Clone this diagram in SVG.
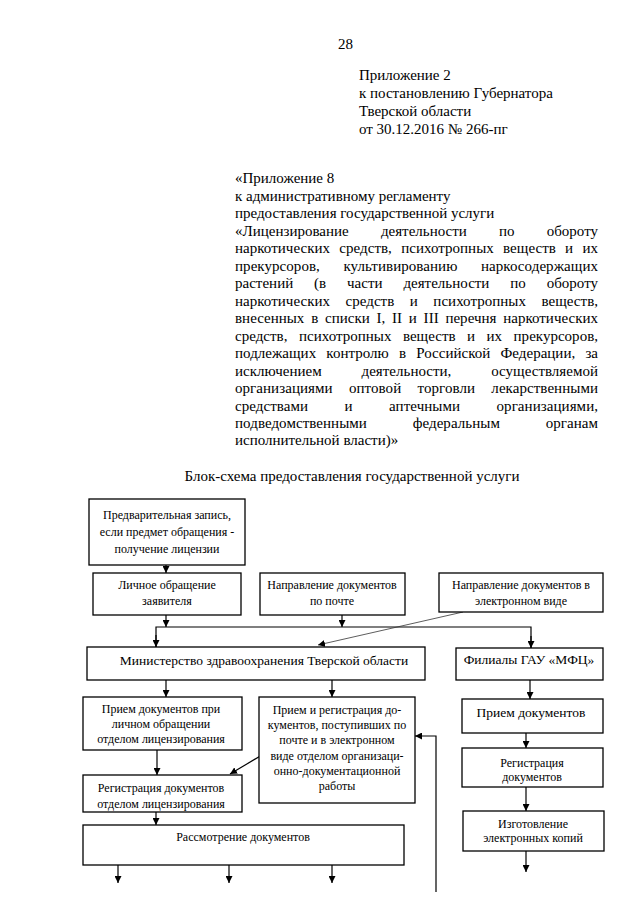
<svg xmlns="http://www.w3.org/2000/svg" width="640" height="905" viewBox="0 0 640 905">
<defs>
<style>
.hd{font-family:"Liberation Serif","Times New Roman",serif;font-size:15px;fill:#000}
.j{font-family:"Liberation Serif","Times New Roman",serif;font-size:15px;fill:#000}
.bt{font-family:"Liberation Serif","Times New Roman",serif;font-size:12px;fill:#000;text-anchor:middle}
.bt.lg{font-size:13.5px}
.box{fill:#fff;stroke:#000;stroke-width:1.3}
.ln{fill:none;stroke:#000;stroke-width:1.2}
.thin{fill:none;stroke:#333;stroke-width:0.8}
</style>
<marker id="ah" viewBox="0 0 8 8" refX="8" refY="4" markerWidth="7" markerHeight="7" markerUnits="userSpaceOnUse" orient="auto">
<path d="M0,0 L8,4 L0,8 z" fill="#000"/>
</marker>
</defs>
<rect width="640" height="905" fill="#fff"/>

<g id="header">
<text class="hd" x="338" y="49">28</text>
<text class="hd" x="359" y="80">Приложение 2</text>
<text class="hd" x="359" y="98">к постановлению Губернатора</text>
<text class="hd" x="359" y="116">Тверской области</text>
<text class="hd" x="359" y="134">от 30.12.2016 № 266-пг</text>
</g>

<g id="annex-text">
<text class="j" x="235" y="183">«Приложение 8</text>
<text class="j" x="235" y="200.5">к административному регламенту</text>
<text class="j" x="235" y="218">предоставления государственной услуги</text>
<text class="j" x="235" y="235.5" word-spacing="28.4" textLength="363" lengthAdjust="spacing">«Лицензирование деятельности по обороту</text>
<text class="j" x="235" y="253" word-spacing="5.5" textLength="363" lengthAdjust="spacing">наркотических средств, психотропных веществ и их</text>
<text class="j" x="235" y="270.5" word-spacing="19.7" textLength="363" lengthAdjust="spacing">прекурсоров, культивированию наркосодержащих</text>
<text class="j" x="235" y="288" word-spacing="17.1" textLength="363" lengthAdjust="spacing">растений (в части деятельности по обороту</text>
<text class="j" x="235" y="305.5" word-spacing="11.7" textLength="363" lengthAdjust="spacing">наркотических средств и психотропных веществ,</text>
<text class="j" x="235" y="323" word-spacing="3" textLength="363" lengthAdjust="spacing">внесенных в списки I, II и III перечня наркотических</text>
<text class="j" x="235" y="340.5" word-spacing="7.7" textLength="363" lengthAdjust="spacing">средств, психотропных веществ и их прекурсоров,</text>
<text class="j" x="235" y="358" word-spacing="6.4" textLength="363" lengthAdjust="spacing">подлежащих контролю в Российской Федерации, за</text>
<text class="j" x="235" y="375.5" word-spacing="36.1" textLength="363" lengthAdjust="spacing">исключением деятельности, осуществляемой</text>
<text class="j" x="235" y="393" word-spacing="12.5" textLength="363" lengthAdjust="spacing">организациями оптовой торговли лекарственными</text>
<text class="j" x="235" y="410.5" word-spacing="32.6" textLength="363" lengthAdjust="spacing">средствами и аптечными организациями,</text>
<text class="j" x="235" y="428" word-spacing="42" textLength="363" lengthAdjust="spacing">подведомственными федеральным органам</text>
<text class="j" x="235" y="445">исполнительной власти)»</text>
</g>

<g id="title">
<text class="hd" x="352" y="481" text-anchor="middle">Блок-схема предоставления государственной услуги</text>
</g>

<g id="connectors">
<line class="ln" x1="166" y1="565" x2="166" y2="573" marker-end="url(#ah)"/>
<line class="ln" x1="166" y1="615" x2="166" y2="627" marker-end="url(#ah)"/>
<line class="ln" x1="342" y1="615" x2="342" y2="627" marker-end="url(#ah)"/>
<polyline class="ln" points="156,647 156,627 531,627 531,648"/>
<line class="ln" x1="156" y1="635" x2="156" y2="647" marker-end="url(#ah)"/>
<line class="ln" x1="531" y1="636" x2="531" y2="648" marker-end="url(#ah)"/>
<line class="thin" x1="463" y1="612" x2="318" y2="645" marker-end="url(#ah)"/>
<line class="ln" x1="166" y1="680" x2="166" y2="697" marker-end="url(#ah)"/>
<line class="ln" x1="332" y1="680" x2="332" y2="697" marker-end="url(#ah)"/>
<line class="ln" x1="530" y1="680" x2="530" y2="699" marker-end="url(#ah)"/>
<line class="ln" x1="157" y1="750" x2="157" y2="775" marker-end="url(#ah)"/>
<line class="ln" x1="262" y1="755" x2="230" y2="774" marker-end="url(#ah)"/>
<polyline class="ln" points="436,892 436,736 415,736" marker-end="url(#ah)"/>
<line class="ln" x1="156" y1="812" x2="156" y2="825" marker-end="url(#ah)"/>
<line class="ln" x1="118" y1="865" x2="118" y2="883" marker-end="url(#ah)"/>
<line class="ln" x1="229" y1="865" x2="229" y2="883" marker-end="url(#ah)"/>
<line class="ln" x1="332" y1="865" x2="332" y2="883" marker-end="url(#ah)"/>
<line class="ln" x1="526" y1="733" x2="526" y2="748" marker-end="url(#ah)"/>
<line class="ln" x1="526" y1="787" x2="526" y2="811" marker-end="url(#ah)"/>
<line class="ln" x1="526" y1="851" x2="526" y2="872" marker-end="url(#ah)"/>
</g>

<g id="n-prereg">
<rect class="box" x="89" y="499" width="156" height="66"/>
<text class="bt" x="167" y="519">Предварительная запись,</text>
<text class="bt" x="167" y="536">если предмет обращения -</text>
<text class="bt" x="167" y="553">получение лицензии</text>
</g>
<g id="n-personal">
<rect class="box" x="93" y="573" width="148" height="42"/>
<text class="bt" x="167" y="589">Личное обращение</text>
<text class="bt" x="167" y="605">заявителя</text>
</g>
<g id="n-mail">
<rect class="box" x="260" y="573" width="145" height="42"/>
<text class="bt" x="332" y="589">Направление документов</text>
<text class="bt" x="332" y="605">по почте</text>
</g>
<g id="n-electronic">
<rect class="box" x="439" y="573" width="164" height="39"/>
<text class="bt" x="521" y="589">Направление документов в</text>
<text class="bt" x="521" y="605">электронном виде</text>
</g>
<g id="n-ministry">
<rect class="box" x="87" y="647" width="338" height="33"/>
<text class="bt lg" x="264" y="665">Министерство здравоохранения Тверской области</text>
</g>
<g id="n-mfc">
<rect class="box" x="456" y="648" width="147" height="32"/>
<text class="bt lg" x="529" y="664">Филиалы ГАУ «МФЦ»</text>
</g>
<g id="n-accept-personal">
<rect class="box" x="83" y="697" width="159" height="53"/>
<text class="bt" x="161" y="713">Прием документов при</text>
<text class="bt" x="161" y="728">личном обращении</text>
<text class="bt" x="161" y="743">отделом лицензирования</text>
</g>
<g id="n-accept-mail">
<rect class="box" x="259" y="697" width="156" height="106"/>
<text class="bt" x="337" y="714">Прием и регистрация до-</text>
<text class="bt" x="337" y="729">кументов, поступивших по</text>
<text class="bt" x="337" y="744">почте и в электронном</text>
<text class="bt" x="337" y="760">виде отделом организаци-</text>
<text class="bt" x="337" y="775">онно-документационной</text>
<text class="bt" x="337" y="790">работы</text>
</g>
<g id="n-register">
<rect class="box" x="83" y="775" width="159" height="37"/>
<text class="bt" x="161" y="792">Регистрация документов</text>
<text class="bt" x="161" y="808">отделом лицензирования</text>
</g>
<g id="n-review">
<rect class="box" x="83" y="825" width="321" height="40"/>
<text class="bt" x="243" y="841">Рассмотрение документов</text>
</g>
<g id="n-mfc-accept">
<rect class="box" x="462" y="699" width="141" height="34"/>
<text class="bt lg" x="531" y="717">Прием документов</text>
</g>
<g id="n-mfc-register">
<rect class="box" x="462" y="748" width="141" height="39"/>
<text class="bt" x="532" y="767">Регистрация</text>
<text class="bt" x="532" y="781">документов</text>
</g>
<g id="n-mfc-copies">
<rect class="box" x="463" y="811" width="141" height="40"/>
<text class="bt" x="533" y="828">Изготовление</text>
<text class="bt" x="533" y="842">электронных копий</text>
</g>
</svg>
